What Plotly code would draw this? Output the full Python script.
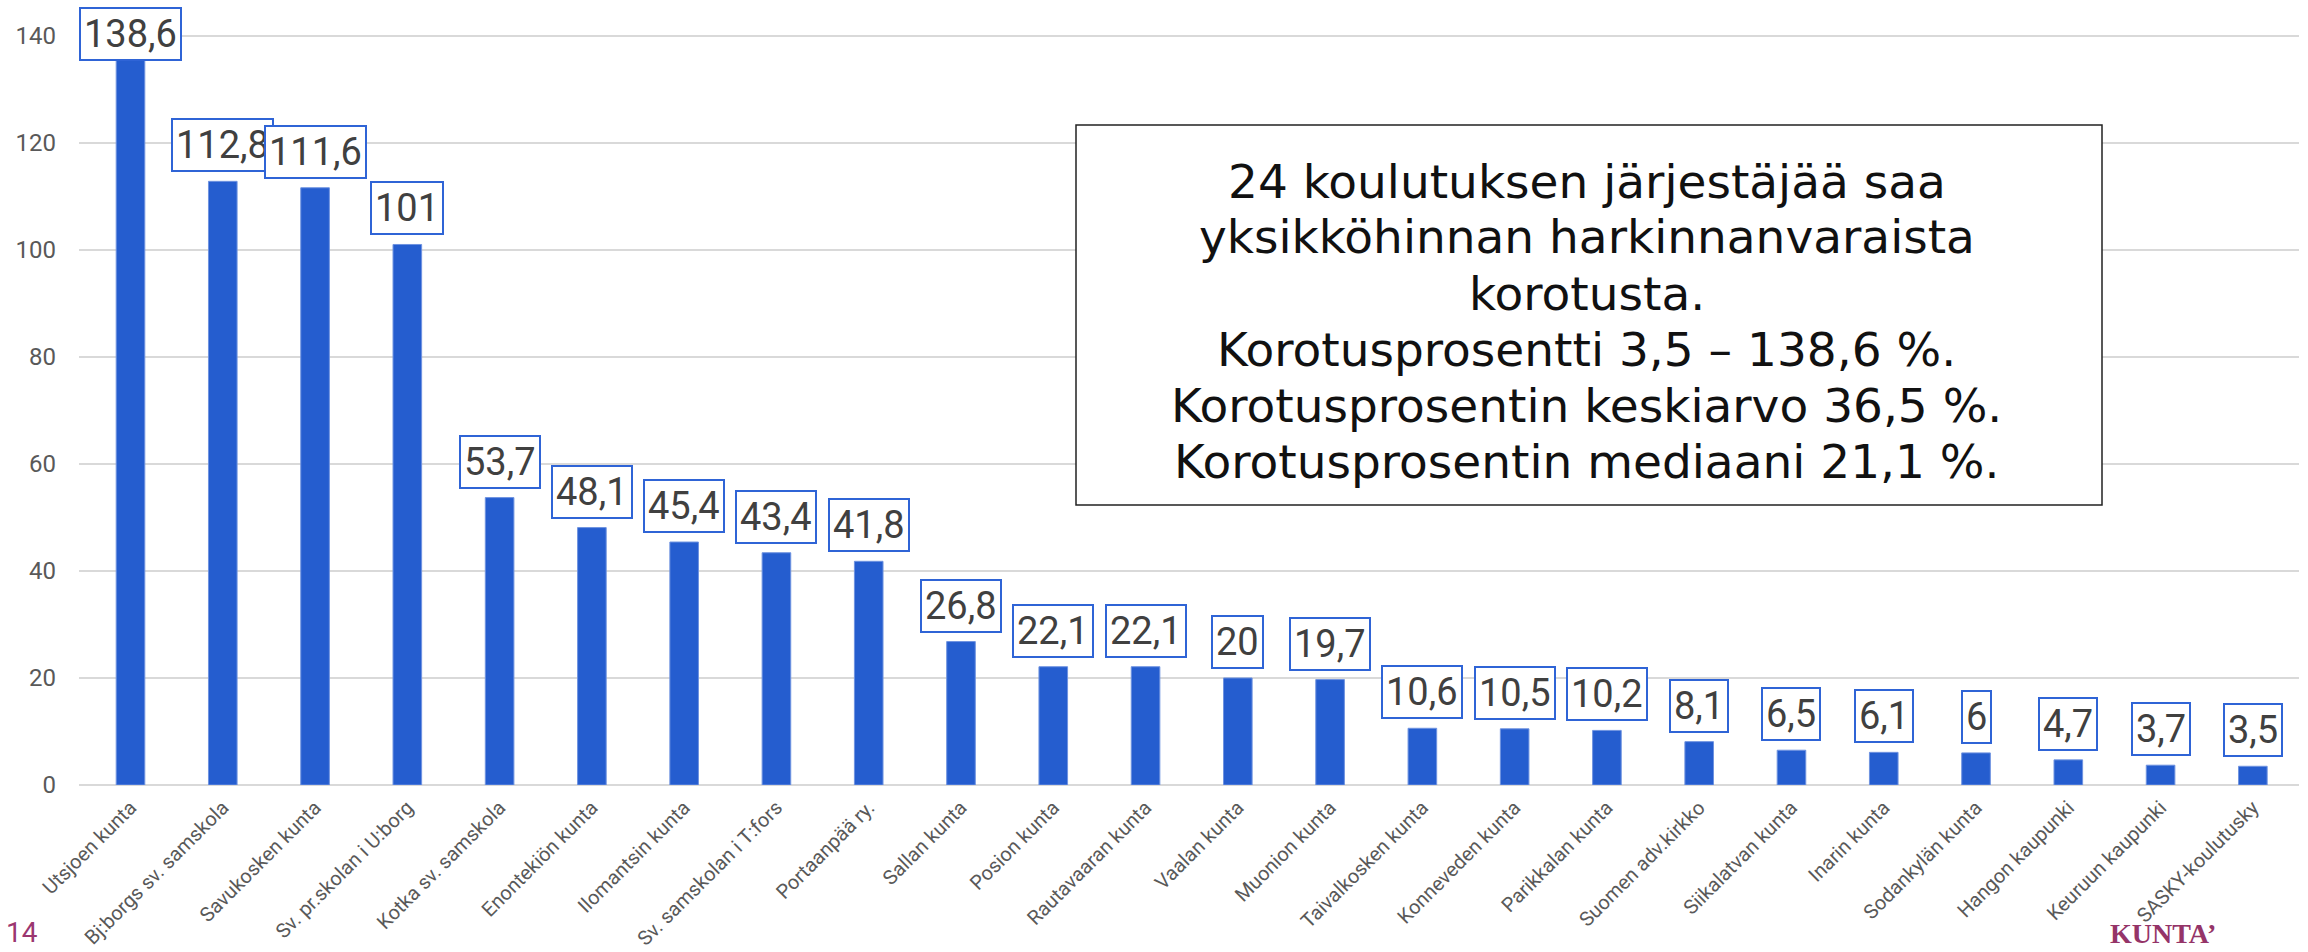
import plotly.graph_objects as go

categories = [
    "Utsjoen kunta", "Bj:borgs sv. samskola", "Savukosken kunta", "Sv. pr.skolan i U:borg",
    "Kotka sv. samskola", "Enontekiön kunta", "Ilomantsin kunta", "Sv. samskolan i T:fors",
    "Portaanpää ry.", "Sallan kunta", "Posion kunta", "Rautavaaran kunta", "Vaalan kunta",
    "Muonion kunta", "Taivalkosken kunta", "Konneveden kunta", "Parikkalan kunta",
    "Suomen adv.kirkko", "Siikalatvan kunta", "Inarin kunta", "Sodankylän kunta",
    "Hangon kaupunki", "Keuruun kaupunki", "SASKY-koulutusky",
]
values = [138.6, 112.8, 111.6, 101, 53.7, 48.1, 45.4, 43.4, 41.8, 26.8, 22.1, 22.1, 20,
          19.7, 10.6, 10.5, 10.2, 8.1, 6.5, 6.1, 6, 4.7, 3.7, 3.5]
y_ticks = [0, 20, 40, 60, 80, 100, 120, 140]
info_lines = [
    "24 koulutuksen järjestäjää saa",
    "yksikköhinnan harkinnanvaraista",
    "korotusta.",
    "Korotusprosentti 3,5 – 138,6 %.",
    "Korotusprosentin keskiarvo 36,5 %.",
    "Korotusprosentin mediaani 21,1 %.",
]

W, H = 2308, 952
L, R, T, B = 79, 9, 9, 167
PW, PH = W - L - R, H - T - B
YMAX = 145

BAR = "#255DCF"
GRID = "#D9D9D9"
TXT = "#404040"
AX = "#595959"


def px_x(p):
    return (p - L) / PW


def px_y(p):
    return (H - B - p) / PH


def fmt(v):
    s = f"{v:.1f}".replace(".", ",")
    return s[:-2] if s.endswith(",0") else s


fig = go.Figure(go.Bar(
    x=categories, y=values, marker=dict(color=BAR, line=dict(color="#6F93E0", width=1)),
    width=0.31, hoverinfo="x+y",
))

annotations = []
ppu = PH / YMAX
label_shift = 9
box_h = 54
for c, v in zip(categories, values):
    common = dict(
        x=c, xref="x", text=fmt(v), showarrow=False,
        font=dict(family="Roboto", size=38, color=TXT),
        bgcolor="white", bordercolor="#2F64D6", borderwidth=2, borderpad=3,
        xanchor="center",
    )
    if v * ppu + label_shift + box_h > PH:
        annotations.append(dict(common, y=1, yref="paper", yanchor="top", yshift=2))
    else:
        annotations.append(dict(common, y=v, yref="y", yanchor="bottom", yshift=label_shift))

# info text box
line_y = [181, 237, 293, 349, 406, 462]
for t, ly in zip(info_lines, line_y):
    annotations.append(dict(
        x=px_x(1587), y=px_y(ly), xref="paper", yref="paper", text=t, showarrow=False,
        xanchor="center", yanchor="middle",
        font=dict(family="DejaVu Sans", size=47, color="#111111"),
    ))

# footer
annotations.append(dict(
    x=px_x(4), y=px_y(951), xref="paper", yref="paper", text="14", showarrow=False,
    xanchor="left", yanchor="bottom", font=dict(family="Roboto", size=28, color="#9B3670"),
))
annotations.append(dict(
    x=px_x(2108), y=px_y(951), xref="paper", yref="paper", text="<b>KUNTA’</b>", showarrow=False,
    xanchor="left", yanchor="bottom", font=dict(family="Liberation Serif", size=28, color="#953468"),
))

fig.update_layout(
    width=W, height=H,
    margin=dict(l=L, r=R, t=T, b=B, autoexpand=False),
    paper_bgcolor="white", plot_bgcolor="white",
    showlegend=False,
    annotations=annotations,
    shapes=[dict(
        type="rect", xref="paper", yref="paper",
        x0=px_x(1076), x1=px_x(2102), y0=px_y(505), y1=px_y(125),
        line=dict(color="#222222", width=1.5), fillcolor="white", layer="above",
    )],
    xaxis=dict(
        type="category", tickangle=-45, showgrid=False, showline=False, zeroline=False,
        ticks="", tickfont=dict(family="Roboto", size=20, color=AX), ticklabelstandoff=6,
    ),
    yaxis=dict(
        range=[0, YMAX], tickvals=y_ticks, showgrid=True, gridcolor=GRID, gridwidth=2,
        zeroline=True, zerolinecolor=GRID, zerolinewidth=2, showline=False, ticks="",
        tickfont=dict(family="Roboto", size=24, color=AX), ticklabelstandoff=22,
    ),
)

fig.write_html(
    "out.html",
    config={"displayModeBar": False},
    post_script="document.body.style.margin='0';document.body.style.overflow='hidden';",
)
